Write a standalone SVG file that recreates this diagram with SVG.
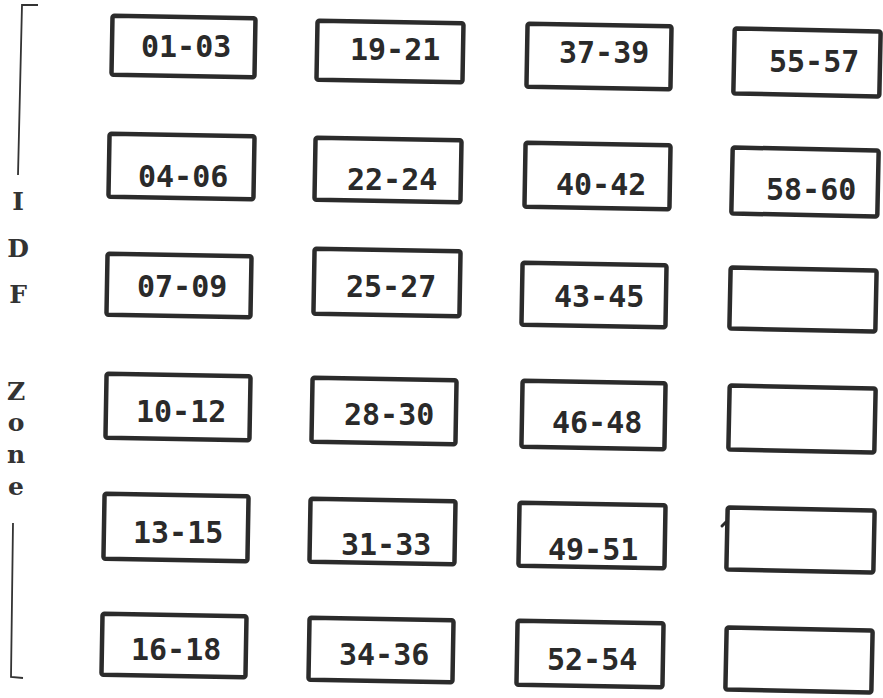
<svg xmlns="http://www.w3.org/2000/svg" width="883" height="698" viewBox="0 0 883 698">
<style>
.b{fill:#fff;stroke:#2b2b2b;stroke-width:4.5;stroke-linejoin:round}
.t{font-family:"DejaVu Sans Mono","Liberation Mono",monospace;font-size:30px;font-weight:bold;fill:#2a2a2a}
.z{font-family:"DejaVu Serif","Liberation Serif",serif;font-size:25px;font-weight:bold;fill:#333;text-anchor:middle}
.br{fill:none;stroke:#333;stroke-width:1.8}
</style>
<rect width="883" height="698" fill="#fff"/>
<g id="zone-label">
<path class="br" d="M38,5 L22,5 L18,175"/>
<path class="br" d="M13,523 L11,677 L23,678"/>
<text class="z" x="18" y="210">I</text>
<text class="z" x="18" y="257">D</text>
<text class="z" x="18" y="303">F</text>
<text class="z" x="16" y="400">Z</text>
<text class="z" x="16" y="431">o</text>
<text class="z" x="16" y="463">n</text>
<text class="z" x="16" y="495">e</text>
</g>
<g id="connectors"></g>
<g id="n01-03"><rect class="b" x="112" y="17" width="143" height="59" rx="2" transform="rotate(1 183 46)"/><text class="t" x="141" y="57">01-03</text></g>
<g id="n04-06"><rect class="b" x="109" y="135" width="145" height="63" rx="2" transform="rotate(1 181 166)"/><text class="t" x="138" y="187">04-06</text></g>
<g id="n07-09"><rect class="b" x="107" y="255" width="144" height="61" rx="2" transform="rotate(1 179 285)"/><text class="t" x="137" y="297">07-09</text></g>
<g id="n10-12"><rect class="b" x="106" y="375" width="144" height="64" rx="2" transform="rotate(1 178 407)"/><text class="t" x="136" y="422">10-12</text></g>
<g id="n13-15"><rect class="b" x="104" y="495" width="144" height="65" rx="2" transform="rotate(1 176 527)"/><text class="t" x="133" y="543">13-15</text></g>
<g id="n16-18"><rect class="b" x="102" y="615" width="144" height="61" rx="2" transform="rotate(1 174 645)"/><text class="t" x="131" y="660">16-18</text></g>
<g id="n19-21"><rect class="b" x="317" y="22" width="146" height="59" rx="2" transform="rotate(1 390 51)"/><text class="t" x="350" y="60">19-21</text></g>
<g id="n22-24"><rect class="b" x="315" y="139" width="146" height="62" rx="2" transform="rotate(1 388 170)"/><text class="t" x="347" y="190">22-24</text></g>
<g id="n25-27"><rect class="b" x="314" y="250" width="146" height="65" rx="2" transform="rotate(1 387 282)"/><text class="t" x="346" y="297">25-27</text></g>
<g id="n28-30"><rect class="b" x="312" y="379" width="144" height="64" rx="2" transform="rotate(1 384 411)"/><text class="t" x="344" y="425">28-30</text></g>
<g id="n31-33"><rect class="b" x="310" y="500" width="145" height="63" rx="2" transform="rotate(1 382 531)"/><text class="t" x="341" y="555">31-33</text></g>
<g id="n34-36"><rect class="b" x="309" y="619" width="144" height="62" rx="2" transform="rotate(1 381 650)"/><text class="t" x="339" y="665">34-36</text></g>
<g id="n37-39"><rect class="b" x="527" y="25" width="144" height="63" rx="2" transform="rotate(1 599 56)"/><text class="t" x="559" y="63">37-39</text></g>
<g id="n40-42"><rect class="b" x="525" y="144" width="145" height="64" rx="2" transform="rotate(1 597 176)"/><text class="t" x="556" y="195">40-42</text></g>
<g id="n43-45"><rect class="b" x="522" y="264" width="144" height="62" rx="2" transform="rotate(1 594 295)"/><text class="t" x="554" y="307">43-45</text></g>
<g id="n46-48"><rect class="b" x="522" y="382" width="143" height="66" rx="2" transform="rotate(1 593 415)"/><text class="t" x="552" y="433">46-48</text></g>
<g id="n49-51"><rect class="b" x="519" y="504" width="146" height="63" rx="2" transform="rotate(1 592 535)"/><text class="t" x="548" y="560">49-51</text></g>
<g id="n52-54"><rect class="b" x="517" y="622" width="146" height="64" rx="2" transform="rotate(1 590 654)"/><text class="t" x="547" y="670">52-54</text></g>
<g id="n55-57"><rect class="b" x="734" y="30" width="146" height="65" rx="2" transform="rotate(1.2 807 62)"/><text class="t" x="769" y="72">55-57</text></g>
<g id="n58-60"><rect class="b" x="732" y="149" width="146" height="66" rx="2" transform="rotate(1.2 805 182)"/><text class="t" x="766" y="200">58-60</text></g>
<g id="n-empty-3"><rect class="b" x="730" y="269" width="146" height="61" rx="2" transform="rotate(1.2 803 299)"/></g>
<g id="n-empty-4"><rect class="b" x="729" y="387" width="146" height="64" rx="2" transform="rotate(1.2 802 419)"/></g>
<g id="n-empty-5"><rect class="b" x="727" y="509" width="147" height="62" rx="2" transform="rotate(1.2 800 540)"/><path d="M726,522 L722,526" stroke="#2b2b2b" stroke-width="3" stroke-linecap="round"/></g>
<g id="n-empty-6"><rect class="b" x="726" y="629" width="146" height="62" rx="2" transform="rotate(1.2 799 660)"/></g>
</svg>
